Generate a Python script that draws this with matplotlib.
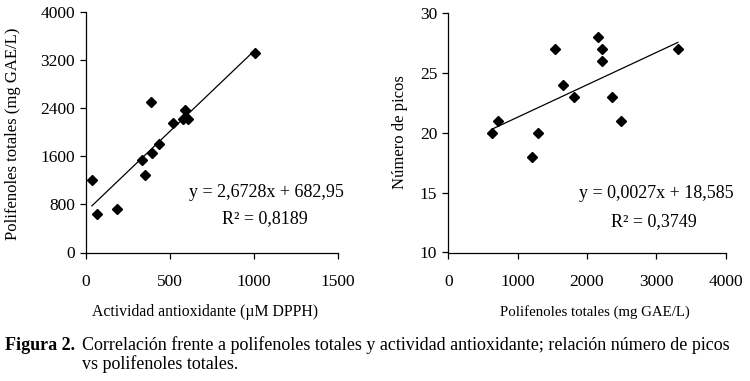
import numpy as np
import matplotlib
matplotlib.use("Agg")
import matplotlib.pyplot as plt

# left panel: antioxidant activity vs total polyphenols
act_x = [35, 65, 185, 335, 350, 385, 395, 435, 515, 575, 590, 605, 1005]
pol_y = [1200, 635, 720, 1540, 1290, 2500, 1665, 1815, 2160, 2220, 2365, 2220, 3330]
fit1 = (2.6728, 682.95)

# right panel: total polyphenols vs number of peaks
pol_x = [635, 720, 1200, 1290, 1540, 1650, 1815, 2160, 2210, 2210, 2365, 2490, 3310]
picos = [20, 21, 18, 20, 27, 24, 23, 28, 27, 26, 23, 21, 27]
fit2 = (0.0027, 18.585)

plt.rcParams['font.family'] = ['Liberation Serif', 'DejaVu Serif']
plt.rcParams['font.size'] = 12

W, H = 750, 381
fig = plt.figure(figsize=(7.5, 3.81), dpi=100)

def px(x0, y0, x1, y1):
    # pixel box (top-left origin) -> figure fraction rect
    return [x0 / W, 1 - y1 / H, (x1 - x0) / W, (y1 - y0) / H]

ax1 = fig.add_axes(px(86, 12.3, 338, 252.5))
ax2 = fig.add_axes(px(448.3, 12.7, 725.7, 252.5))

for ax in (ax1, ax2):
    for s in ('top', 'right'):
        ax.spines[s].set_visible(False)
    for s in ('left', 'bottom'):
        ax.spines[s].set_linewidth(0.9)
    ax.tick_params(direction='out', length=4, width=0.9, labelsize=12.5)
    ax.tick_params(axis='x', pad=11.5)
    ax.tick_params(axis='y', pad=4)

# left
ax1.plot(act_x, pol_y, 'D', color='black', ms=5.3)
xx = np.array([min(act_x), max(act_x)])
ax1.plot(xx, fit1[0] * xx + fit1[1], '-', color='black', lw=0.9)
ax1.set_xlim(0, 1500)
ax1.set_ylim(0, 4000)
ax1.set_xticks([0, 500, 1000, 1500])
ax1.set_yticks([0, 800, 1600, 2400, 3200, 4000])
ax1.text(1077, 1005, 'y = 2,6728x + 682,95', ha='center', va='center', fontsize=13)
ax1.text(1065, 560, 'R² = 0,8189', ha='center', va='center', fontsize=13)

# right
ax2.plot(pol_x, picos, 'D', color='black', ms=5.3)
xx = np.array([min(pol_x), max(pol_x)])
ax2.plot(xx, fit2[0] * xx + fit2[1], '-', color='black', lw=0.9)
ax2.set_xlim(0, 4000)
ax2.set_ylim(10, 30)
ax2.set_xticks([0, 1000, 2000, 3000, 4000])
ax2.set_yticks([10, 15, 20, 25, 30])
ax2.text(2995, 14.91, 'y = 0,0027x + 18,585', ha='center', va='center', fontsize=13)
ax2.text(2960, 12.6, 'R² = 0,3749', ha='center', va='center', fontsize=13)

# axis labels
fig.text(13 / W, 1 - 134 / H, 'Polifenoles totales (mg GAE/L)', rotation=90,
         ha='center', va='center', fontsize=12)
fig.text(400 / W, 1 - 132 / H, 'Número de picos', rotation=90,
         ha='center', va='center', fontsize=12)
fig.text(205 / W, 1 - 312 / H, 'Actividad antioxidante (µM DPPH)',
         ha='center', va='center', fontsize=11.3)
fig.text(595 / W, 1 - 312 / H, 'Polifenoles totales (mg GAE/L)',
         ha='center', va='center', fontsize=10.7)

# caption
fig.text(5 / W, 1 - 345 / H, 'Figura 2.', fontweight='bold', ha='left', va='center', fontsize=13)
fig.text(82 / W, 1 - 345 / H,
         'Correlación frente a polifenoles totales y actividad antioxidante; relación número de picos',
         ha='left', va='center', fontsize=13)
fig.text(82 / W, 1 - 364 / H, 'vs polifenoles totales.', ha='left', va='center', fontsize=13)

fig.savefig('out.png', dpi=100)
